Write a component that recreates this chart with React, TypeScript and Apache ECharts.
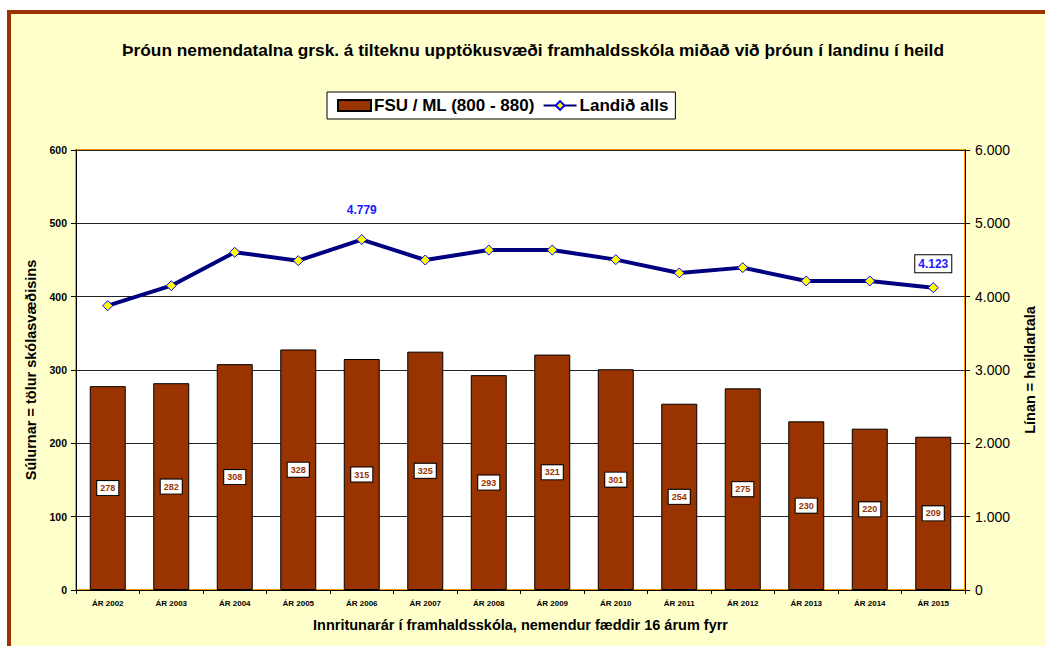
import React, { useEffect, useRef } from "react";
import * as echarts from "echarts";

const years = ["ÁR 2002", "ÁR 2003", "ÁR 2004", "ÁR 2005", "ÁR 2006", "ÁR 2007", "ÁR 2008", "ÁR 2009", "ÁR 2010", "ÁR 2011", "ÁR 2012", "ÁR 2013", "ÁR 2014", "ÁR 2015"];
const fsuMl = [278, 282, 308, 328, 315, 325, 293, 321, 301, 254, 275, 230, 220, 209];
const landid = [3877, 4150, 4605, 4491, 4779, 4500, 4636, 4636, 4505, 4323, 4396, 4214, 4214, 4123];
const labelledPoints = [4, 13];

const FONT = "Arial, 'Liberation Sans', sans-serif";

const fmt = (v: number) => (v === 0 ? "0" : (v / 1000).toFixed(3));

export default function App() {
  const ref = useRef<HTMLDivElement>(null);
  useEffect(() => {
    if (!ref.current) return;
    const chart = echarts.init(ref.current, undefined, { renderer: "svg" });
    const lineData = landid.map((v, i) => {
      if (!labelledPoints.includes(i)) return v;
      const boxed = i === landid.length - 1;
      return {
        value: v,
        label: {
          show: true,
          position: "top",
          distance: boxed ? 10 : 18,
          formatter: (p: any) => fmt(p.value),
          color: "#1a1aff",
          fontWeight: "bold",
          fontSize: 12,
          fontFamily: FONT,
          backgroundColor: boxed ? "#fff" : "transparent",
          borderColor: boxed ? "#000" : "transparent",
          borderWidth: boxed ? 1 : 0,
          padding: boxed ? [3, 3, 2, 3] : 0,
        },
      };
    });
    chart.setOption({
      animation: false,
      backgroundColor: "#fff",
      textStyle: { fontFamily: FONT },
      graphic: [
        {
          type: "rect",
          z: -10,
          silent: true,
          shape: { x: 9, y: 12, width: 1100, height: 700 },
          style: { fill: "#FFFFCC", stroke: "#993300", lineWidth: 4 },
        },
      ],
      title: {
        text: "Þróun nemendatalna grsk. á tilteknu upptökusvæði framhaldsskóla miðað við þróun í landinu í heild",
        left: 528,
        textAlign: "center",
        top: 36,
        textStyle: { fontFamily: FONT, fontSize: 17.3, fontWeight: "bold", color: "#000" },
      },
      legend: {
        left: 327,
        top: 92,
        backgroundColor: "#fff",
        borderColor: "#000",
        borderWidth: 1,
        padding: [5, 7, 5, 10],
        itemGap: 8,
        itemWidth: 33,
        itemHeight: 11,
        textStyle: { fontFamily: FONT, fontSize: 17, fontWeight: "bold", color: "#000", padding: [0, 0, 0, -2] },
        data: [
          { name: "FSU / ML (800 - 880)", icon: "rect" },
          { name: "Landið alls" },
        ],
      },
      grid: {
        left: 76,
        top: 150,
        right: 80,
        bottom: 56,
        show: true,
        backgroundColor: "#fff",
        borderColor: "#FF9900",
        borderWidth: 2,
      },
      xAxis: {
        type: "category",
        data: years,
        boundaryGap: true,
        name: "Innritunarár í framhaldsskóla, nemendur fæddir 16 árum fyrr",
        nameLocation: "middle",
        nameGap: 27,
        nameTextStyle: { fontFamily: FONT, fontSize: 14.5, fontWeight: "bold", color: "#000" },
        axisLine: { show: true, lineStyle: { color: "#000", width: 1 } },
        axisTick: { show: true, length: 4, alignWithLabel: false, lineStyle: { color: "#000" } },
        axisLabel: { fontFamily: FONT, fontSize: 8, fontWeight: "bold", color: "#000", margin: 9, interval: 0 },
      },
      yAxis: [
        {
          type: "value",
          min: 0,
          max: 600,
          interval: 100,
          name: "Súlurnar = tölur skólasvæðisins",
          nameLocation: "middle",
          nameGap: 36,
          nameRotate: 90,
          nameTextStyle: { fontFamily: FONT, fontSize: 14.5, fontWeight: "bold", color: "#000" },
          axisLine: { show: true, lineStyle: { color: "#000", width: 1 } },
          axisTick: { show: true, length: 5, lineStyle: { color: "#000" } },
          axisLabel: { fontFamily: FONT, fontSize: 10.5, fontWeight: "bold", color: "#000", margin: 9 },
          splitLine: { show: true, lineStyle: { color: "#222", width: 1 } },
        },
        {
          type: "value",
          min: 0,
          max: 6000,
          interval: 1000,
          position: "right",
          name: "Línan = heildartala",
          nameLocation: "middle",
          nameGap: 57,
          nameRotate: 90,
          nameTextStyle: { fontFamily: FONT, fontSize: 14.5, fontWeight: "bold", color: "#000" },
          axisLine: { show: true, lineStyle: { color: "#000", width: 1 } },
          axisTick: { show: true, length: 5, lineStyle: { color: "#000" } },
          axisLabel: { fontFamily: FONT, fontSize: 14, color: "#000", margin: 10, formatter: fmt },
          splitLine: { show: false },
        },
      ],
      series: [
        {
          name: "FSU / ML (800 - 880)",
          type: "bar",
          yAxisIndex: 0,
          data: fsuMl,
          barWidth: 36,
          itemStyle: { color: "#993300", borderColor: "#000", borderWidth: 1 },
          label: {
            show: true,
            position: "inside",
            color: "#993300",
            fontSize: 9,
            fontWeight: "bold",
            fontFamily: FONT,
            backgroundColor: "#fff",
            borderColor: "#000",
            borderWidth: 1,
            padding: [3, 3, 2, 3],
          },
        },
        {
          name: "Landið alls",
          type: "line",
          yAxisIndex: 1,
          data: lineData,
          symbol: "diamond",
          symbolSize: 10,
          lineStyle: { color: "#000080", width: 4 },
          itemStyle: { color: "#FFFF00", borderColor: "#0000FF", borderWidth: 1 },
          z: 5,
        },
      ],
    });
    return () => chart.dispose();
  }, []);
  return (
    <div style={{ position: "fixed", left: 0, top: 0, width: 1045, height: 646 }}>
      <div ref={ref} style={{ width: 1045, height: 646 }} />
    </div>
  );
}
